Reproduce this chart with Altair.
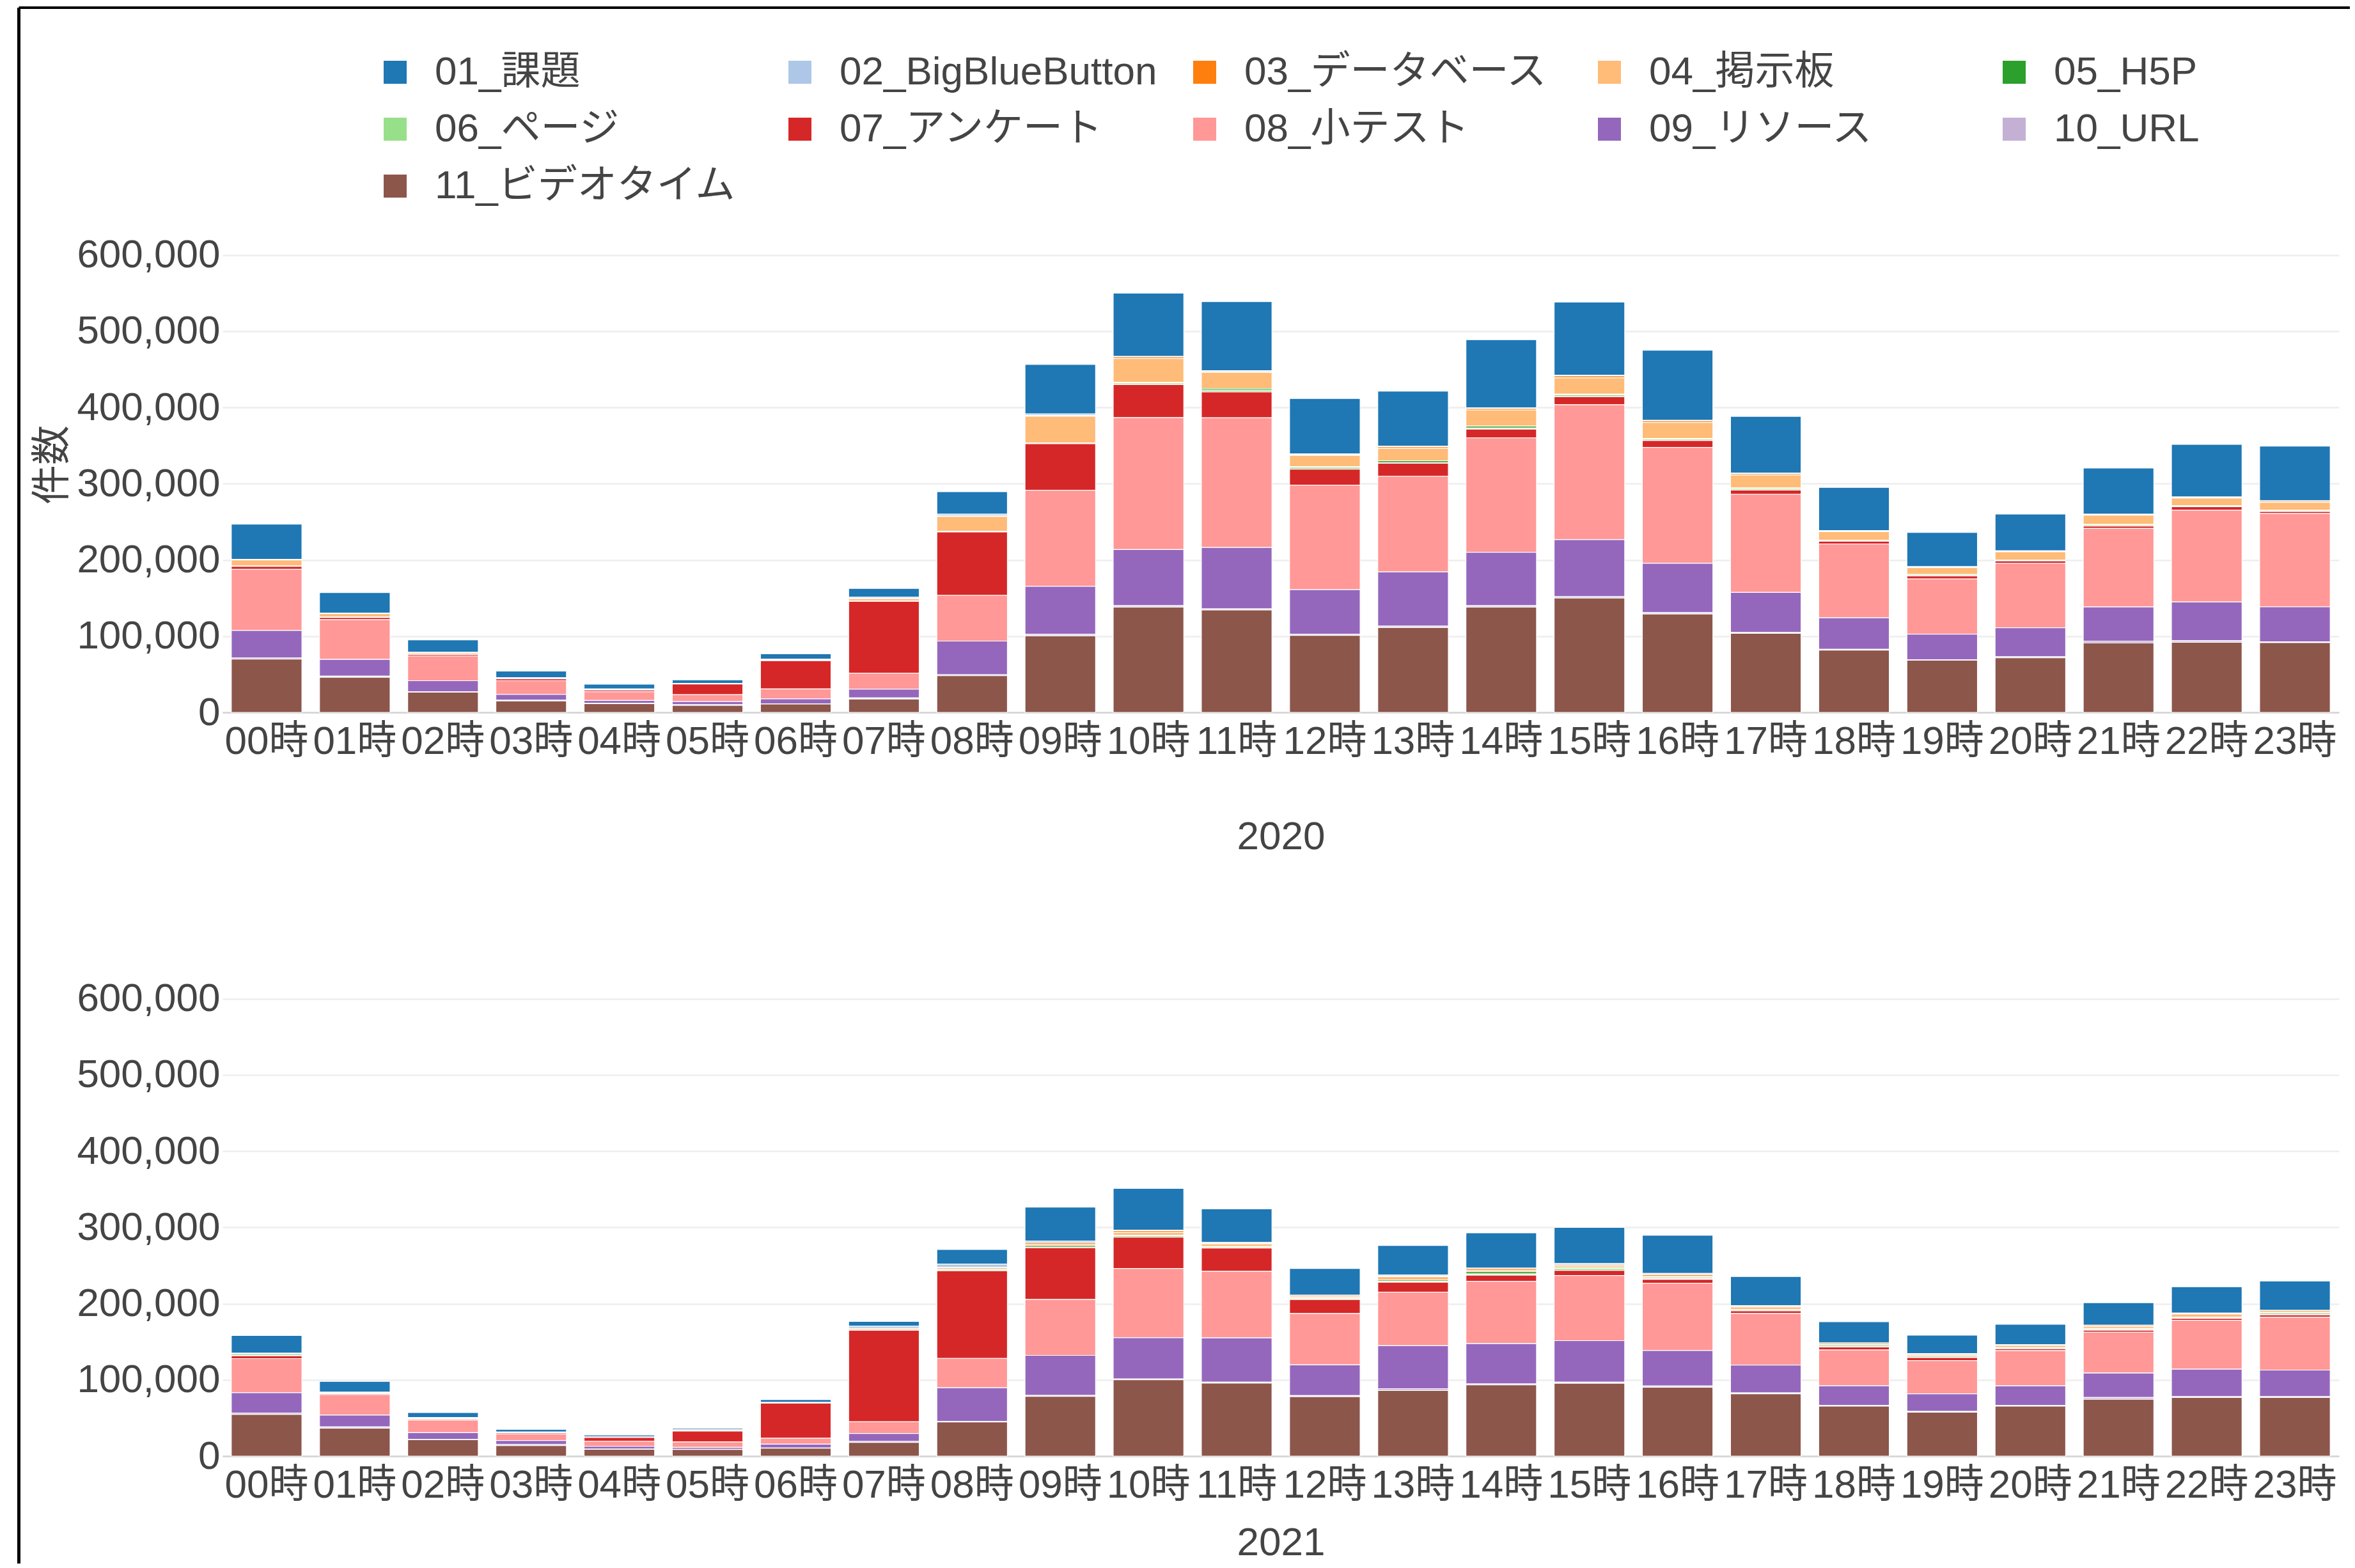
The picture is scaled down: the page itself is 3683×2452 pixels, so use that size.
import altair as alt
import pandas as pd

hours = ["00時", "01時", "02時", "03時", "04時", "05時", "06時", "07時", "08時", "09時", "10時", "11時",
         "12時", "13時", "14時", "15時", "16時", "17時", "18時", "19時", "20時", "21時", "22時", "23時"]

categories = ["01_課題", "02_BigBlueButton", "03_データベース", "04_掲示板", "05_H5P", "06_ページ",
              "07_アンケート", "08_小テスト", "09_リソース", "10_URL", "11_ビデオタイム"]
colors = ["#1f77b4", "#aec7e8", "#ff7f0e", "#ffbb78", "#2ca02c", "#98df8a",
          "#d62728", "#ff9896", "#9467bd", "#c5b0d5", "#8c564b"]

y_ticks = [0, 100000, 200000, 300000, 400000, 500000, 600000]

# ---- 2020 ----
task_2020 = [46000, 27000, 16400, 8600, 6300, 4900, 7000, 11500, 29500, 65000, 83000, 90500,
             72700, 72000, 89500, 96000, 92000, 74500, 56700, 44700, 48200, 60400, 69000, 71600]
bbb_2020 = [300, 200, 100, 100, 100, 100, 300, 1500, 2000, 2000, 800, 1200,
            800, 800, 800, 800, 800, 600, 500, 500, 500, 600, 500, 600]
db_2020 = [500, 500, 300, 200, 200, 100, 500, 500, 1000, 1000, 2000, 1300,
           1000, 2000, 2000, 2500, 2000, 2000, 800, 800, 800, 800, 1000, 1500]
forum_2020 = [8000, 4500, 2000, 1000, 700, 300, 1000, 3000, 19500, 35000, 31500, 21000,
              15000, 16500, 21000, 21500, 21000, 16800, 11200, 9000, 10800, 12000, 9700, 10000]
h5p_2020 = [200, 100, 100, 100, 200, 50, 100, 200, 300, 400, 600, 2000,
            600, 2500, 2500, 800, 800, 800, 400, 400, 500, 500, 700, 500]
page_2020 = [300, 300, 200, 100, 300, 100, 200, 300, 600, 600, 2000, 2500,
             2500, 800, 1500, 2500, 2000, 2000, 1000, 1500, 600, 1800, 900, 1500]
survey_2020 = [4000, 3000, 2000, 2500, 2000, 14000, 37000, 94000, 83000, 61000, 43500, 34000,
               21000, 17000, 11500, 10500, 9000, 5600, 3700, 4000, 3300, 3000, 4500, 2600]
quiz_2020 = [80000, 52000, 32500, 18000, 11500, 9000, 13000, 21000, 60000, 126000, 173000, 170000,
             137000, 125500, 150000, 177000, 152000, 128700, 96700, 72400, 84300, 103000, 120500, 122400]
resource_2020 = [36000, 22000, 14500, 7500, 3700, 3700, 6500, 11500, 44000, 63000, 73500, 80500,
                 58500, 71000, 70000, 74500, 64500, 52600, 41400, 33600, 38000, 44800, 50700, 45900]
url_2020 = [1500, 1500, 500, 1000, 500, 1500, 300, 1500, 1500, 2000, 2000, 1500,
            1500, 2000, 2000, 2000, 2000, 1000, 1000, 500, 1500, 2500, 2000, 1000]
video_2020 = [70000, 46000, 26500, 15000, 11500, 9000, 11000, 17500, 48000, 100400, 138000, 134300,
              101000, 111200, 138000, 150000, 129000, 103700, 81700, 68500, 71600, 91000, 92000, 91500]

# ---- 2021 ----
task_2021 = [23200, 14300, 6700, 3600, 2500, 1700, 3900, 6400, 19300, 44700, 55000, 43900,
             35000, 38800, 46100, 47200, 50000, 38000, 27900, 24300, 26800, 29600, 34600, 38500]
bbb_2021 = [300, 200, 100, 100, 100, 100, 200, 2800, 3900, 2200, 600, 1400,
            500, 1400, 600, 2000, 1700, 600, 400, 400, 400, 500, 500, 500]
db_2021 = [300, 400, 500, 100, 100, 300, 100, 300, 500, 1700, 2200, 600,
           1700, 600, 2200, 1400, 2200, 1400, 1700, 1400, 600, 1400, 800, 1700]
forum_2021 = [800, 800, 800, 300, 200, 1200, 300, 1700, 2200, 2500, 3600, 3600,
              1400, 4500, 2000, 2200, 1400, 3000, 1100, 1400, 2800, 2500, 3900, 1400]
h5p_2021 = [1700, 200, 200, 100, 100, 200, 100, 200, 300, 1700, 600, 500,
            500, 1700, 2800, 1400, 1400, 600, 1700, 1400, 500, 800, 800, 1700]
page_2021 = [300, 200, 200, 100, 100, 200, 100, 300, 1700, 500, 2000, 1400,
             1700, 1100, 1700, 2200, 1100, 1400, 500, 500, 1100, 1400, 800, 600]
survey_2021 = [3600, 1400, 1400, 1700, 5000, 14200, 46100, 120000, 115000, 68000, 41000, 30700,
               18400, 13000, 8000, 6700, 5000, 3600, 3900, 3900, 2500, 2500, 2500, 3100]
quiz_2021 = [44700, 26800, 16500, 8700, 6700, 7000, 7800, 15400, 38500, 73200, 90800, 87200,
             67300, 70400, 81800, 85500, 88300, 67600, 46900, 43600, 46100, 53600, 64200, 69300]
resource_2021 = [26800, 15400, 8900, 5000, 3600, 2500, 5000, 10300, 43900, 52500, 54200, 58100,
                 40300, 56200, 52800, 54500, 46600, 36300, 25700, 23100, 25700, 32100, 35800, 34600]
url_2021 = [1700, 1700, 300, 1700, 300, 300, 300, 1400, 1000, 1400, 1100, 1100,
            1400, 2500, 1400, 1400, 1700, 1400, 1100, 1100, 1000, 2200, 1400, 1400]
video_2021 = [54700, 36600, 21500, 13700, 8900, 8700, 10300, 17900, 44700, 78200, 100000, 95800,
              77900, 86000, 93300, 95500, 90200, 81600, 65400, 57500, 65400, 74600, 76800, 76800]

series_2020 = [task_2020, bbb_2020, db_2020, forum_2020, h5p_2020, page_2020,
               survey_2020, quiz_2020, resource_2020, url_2020, video_2020]
series_2021 = [task_2021, bbb_2021, db_2021, forum_2021, h5p_2021, page_2021,
               survey_2021, quiz_2021, resource_2021, url_2021, video_2021]


def build(series):
    rows = []
    for ci, (cat, vals) in enumerate(zip(categories, series)):
        for h, v in zip(hours, vals):
            rows.append({"hour": h, "category": cat, "value": v, "idx": ci + 1})
    return pd.DataFrame(rows)


df2020 = build(series_2020)
df2021 = build(series_2021)

FONT = "Liberation Sans, Noto Sans CJK JP, sans-serif"
TXT = "#444444"

legend = alt.Legend(
    title=None, orient="none", legendX=239, legendY=-257, columns=5, gridAlign="all",
    columnPadding=43, rowPadding=27, symbolType="square", symbolSize=1296,
    symbolStrokeWidth=0, labelFontSize=62, labelLimit=2000, labelOffset=31,
    labelColor=TXT, labelFont=FONT, direction="horizontal",
)


def panel(df, year, ytitle, tpad):
    return alt.Chart(df).mark_bar(stroke="white", strokeWidth=1.2).encode(
        x=alt.X("hour:N", sort=hours, title=year,
                scale=alt.Scale(paddingInner=0.2, paddingOuter=0.1),
                axis=alt.Axis(labelAngle=0, labelPadding=15, titlePadding=tpad, grid=False,
                              domain=True, domainColor="#d4d4d4", domainWidth=2.6,
                              ticks=False, labelOverlap=False)),
        y=alt.Y("value:Q", stack="zero", title=ytitle,
                scale=alt.Scale(domain=[0, 650000], nice=False, zero=True),
                axis=alt.Axis(values=y_ticks, format=",d", grid=True, domain=False, ticks=False,
                              labelPadding=4, titleX=-234, labelLimit=600)),
        color=alt.Color("category:N", scale=alt.Scale(domain=categories, range=colors),
                        legend=legend),
        order=alt.Order("idx:Q", sort="descending"),
    ).properties(width=3310, height=775)


# page frame (black border at left and top edges of the screenshot)
frame_df = pd.DataFrame({"k": [0]})
left_rule = alt.Chart(frame_df).mark_rule(color="black", strokeWidth=5).encode(
    x=alt.value(-318.5), y=alt.value(-327), y2=alt.value(2201.5))
top_rule = alt.Chart(frame_df).mark_rule(color="black", strokeWidth=4).encode(
    x=alt.value(-318.5), x2=alt.value(3345), y=alt.value(-327))

top = alt.layer(panel(df2020, "2020", "件数", 88), left_rule, top_rule)
bottom = panel(df2021, "2021", None, 29)

chart = alt.vconcat(top, bottom, spacing=388, bounds="flush").resolve_scale(color="shared").properties(
    padding={"left": 19, "top": 1, "right": -20, "bottom": -98}
).configure(font=FONT).configure_view(stroke=None).configure_axis(
    labelFont=FONT, titleFont=FONT, labelFontSize=62, titleFontSize=62,
    labelColor=TXT, titleColor=TXT, titleFontWeight="normal",
    gridColor="#eeeeee", gridWidth=2.4,
)

chart.save("out.html", embed_options={"renderer": "svg", "actions": False})
